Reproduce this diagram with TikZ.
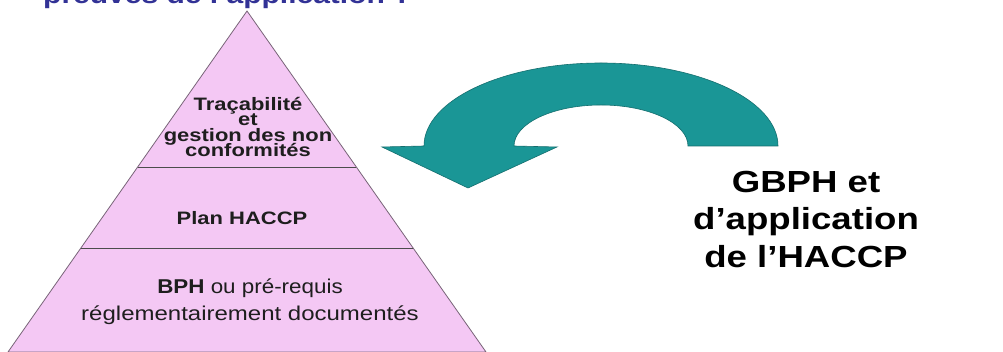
\documentclass[tikz,border=0pt]{standalone}
\usepackage{fontspec}
\setmainfont{Liberation Sans}
\usetikzlibrary{calc}
\definecolor{pyrfill}{RGB}{244,200,244}
\definecolor{pyrline}{RGB}{120,100,120}
\definecolor{teal1}{RGB}{26,150,150}
\definecolor{teal2}{RGB}{20,110,110}
\definecolor{txt}{RGB}{30,30,30}
\definecolor{ttl}{RGB}{50,50,150}
\newcommand{\wx}[1]{\scalebox{1.22}[1]{#1}}
\newcommand{\tightlines}{\lineskiplimit=-20pt\relax}
\begin{document}
\begin{tikzpicture}[x=1pt,y=1pt,
  pyr/.style={fill=pyrfill,draw=pyrline,line width=0.8pt},
  divline/.style={draw=black!70,line width=0.9pt},
  arrowshape/.style={fill=teal1,draw=teal2,line width=0.6pt},
  lbl/.style={inner sep=0pt,text=txt,align=center},
]
\useasboundingbox (0,0) rectangle (1003,352);
\clip (0,0) rectangle (1003,352);
\fill[white] (0,0) rectangle (1003,352);
% title (cut off at top)
\node[inner sep=0pt,anchor=base west,text=ttl,font={\fontsize{25}{28}\selectfont\bfseries}] (title) at (43,348) {\scalebox{1.2}[1]{preuves de l'application ?}};
% pyramid
\coordinate (apex) at (247,341);
\coordinate (bl) at (8,0);
\coordinate (br) at (486,0);
\path[pyr] (bl) -- (apex) -- (br) -- cycle;
\coordinate (d1l) at ($(apex)!0.4575!(bl)$);
\coordinate (d1r) at ($(apex)!0.4575!(br)$);
\coordinate (d2l) at ($(apex)!0.695!(bl)$);
\coordinate (d2r) at ($(apex)!0.695!(br)$);
\draw[divline] (d1l) -- (d1r);
\draw[divline] (d2l) -- (d2r);
% pyramid labels
\node[lbl,anchor=north,font={\fontsize{18}{15.5}\selectfont\bfseries\tightlines}] (t1) at (248,255)
  {\wx{Traçabilité}\\\wx{et}\\\wx{gestion des non}\\\wx{conformités}};
\node[lbl,anchor=base,font={\fontsize{18}{20}\selectfont\bfseries}] (t2) at (242,127) {\wx{Plan HACCP}};
\node[lbl,anchor=north,font={\fontsize{20}{27}\selectfont}] (t3) at (250,73.5)
  {\scalebox{1.12}[1]{\textbf{BPH} ou pré-requis}\\\scalebox{1.2}[1]{réglementairement documentés}};
% curved arrow
\path[arrowshape] (778,206) arc[start angle=0,end angle=180,x radius=177pt,y radius=83pt]
  -- (382,205) -- (468,164) -- (557,205) -- (514,206)
  arc[start angle=180,end angle=0,x radius=87pt,y radius=41pt] -- cycle;
% right label
\node[lbl,anchor=north,text=black,font={\fontsize{30.5}{37.5}\selectfont\bfseries}] (t4) at (806,181)
  {\scalebox{1.2}[1]{GBPH et}\\\scalebox{1.2}[1]{d’application}\\\scalebox{1.2}[1]{de l’HACCP}};
\end{tikzpicture}
\end{document}
